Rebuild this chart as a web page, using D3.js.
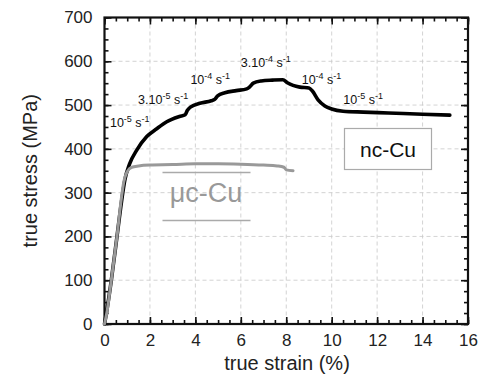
<!DOCTYPE html>
<html><head><meta charset="utf-8">
<script src="https://cdn.jsdelivr.net/npm/d3@7"></script>
<style>body{margin:0;background:#fff}svg{display:block}</style>
</head><body>
<svg id="c" width="481" height="382"></svg>
<script>
// ---- data ----
const xTicks = [0, 2, 4, 6, 8, 10, 12, 14, 16];
const yTicks = [0, 100, 200, 300, 400, 500, 600, 700];
const ncStrain = [0, 0.1, 0.3, 0.55, 0.75, 0.9, 1.1, 1.42, 1.86, 2.3, 2.74, 3.3, 3.55, 3.65, 3.8, 4.2, 4.7, 4.85, 4.98, 5.3, 5.8, 6.26, 6.4, 6.55, 6.9, 7.4, 7.85, 8.05, 8.3, 8.6, 9.0, 9.15, 9.4, 9.7, 10.0, 10.5, 11.4, 12.5, 14.0, 15.2];
const ncStress = [0, 30, 100, 200, 280, 330, 365, 397, 428, 446, 462, 474, 478, 488, 496, 504, 510, 513, 521, 528, 533, 537, 542, 550, 555, 557, 558, 551, 545, 541, 539, 532, 512, 498, 491, 486, 484, 482, 479, 477];
const ucStrain = [0, 0.1, 0.3, 0.55, 0.75, 0.85, 1.0, 1.2, 1.5, 2.0, 3.0, 4.0, 5.0, 6.0, 7.0, 7.6, 7.9, 8.0, 8.3];
const ucStress = [0, 25, 100, 200, 290, 325, 348, 358, 361, 363, 364, 366, 366, 365, 363, 361, 358, 352, 350];
// strain-rate annotations: [strain, stress, prefix, exponent]
const rateLabels = [
  {x: 0.24, y: 450, pre: "10", exp: "-5"},
  {x: 1.48, y: 502, pre: "3.10", exp: "-5"},
  {x: 3.78, y: 549, pre: "10", exp: "-4"},
  {x: 5.998, y: 587, pre: "3.10", exp: "-4"},
  {x: 8.68, y: 549, pre: "10", exp: "-4"},
  {x: 10.51, y: 502, pre: "10", exp: "-5"}
];

const font = "'Liberation Sans', Arial, Helvetica, sans-serif";
const svg = d3.select("#c");
const L = 104.5, R = 468, T = 17.5, B = 324;
const x = d3.scaleLinear().domain([0, 16]).range([L, R]);
const y = d3.scaleLinear().domain([0, 700]).range([B, T]);

// grid
const g = svg.append("g");
g.selectAll(".gx").data(xTicks.slice(1, -1)).join("line")
  .attr("x1", d => x(d)).attr("x2", d => x(d)).attr("y1", T).attr("y2", B)
  .attr("stroke", "#c8c8c8").attr("stroke-width", 0.8).attr("stroke-dasharray", "4,3");
g.selectAll(".gy").data(yTicks.slice(1, -1)).join("line")
  .attr("y1", d => y(d)).attr("y2", d => y(d)).attr("x1", L).attr("x2", R)
  .attr("stroke", "#c8c8c8").attr("stroke-width", 0.8).attr("stroke-dasharray", "4,3");

// axes with inward ticks
const xMinor = d3.range(0, 16.01, 0.5);
const yMinor = d3.range(0, 700.1, 25);
function addAxis(axisGen, tx, ty, cls) {
  return svg.append("g").attr("transform", `translate(${tx},${ty})`).call(axisGen);
}
const axB = addAxis(d3.axisBottom(x).tickValues(xTicks).tickSize(-7).tickPadding(10).tickFormat(d3.format("d")), 0, B);
const axBm = addAxis(d3.axisBottom(x).tickValues(xMinor).tickSize(-4).tickFormat(""), 0, B);
const axT = addAxis(d3.axisTop(x).tickValues(xTicks).tickSize(-7).tickFormat(""), 0, T);
const axTm = addAxis(d3.axisTop(x).tickValues(xMinor).tickSize(-4).tickFormat(""), 0, T);
const axL = addAxis(d3.axisLeft(y).tickValues(yTicks).tickSize(-7).tickPadding(12).tickFormat(d3.format("d")), L, 0);
const axLm = addAxis(d3.axisLeft(y).tickValues(yMinor).tickSize(-4).tickFormat(""), L, 0);
const axR = addAxis(d3.axisRight(y).tickValues(yTicks).tickSize(-7).tickFormat(""), R, 0);
const axRm = addAxis(d3.axisRight(y).tickValues(yMinor).tickSize(-4).tickFormat(""), R, 0);
[axB, axBm, axT, axTm, axL, axLm, axR, axRm].forEach(a => {
  a.select(".domain").remove();
  a.selectAll(".tick line").attr("stroke", "#111").attr("stroke-width", 1.6);
  a.selectAll("text").attr("font-family", font).attr("font-size", 17).attr("fill", "#222");
});
axB.selectAll("text").attr("dy", "0.71em");

// frame
svg.append("rect").attr("x", L).attr("y", T).attr("width", R - L).attr("height", B - T)
  .attr("fill", "none").attr("stroke", "#111").attr("stroke-width", 2.2);

// curves
const line = d3.line().x(d => x(d[0])).y(d => y(d[1])).curve(d3.curveMonotoneX);
svg.append("path").datum(ncStrain.map((s, i) => [s, ncStress[i]]))
  .attr("d", line).attr("fill", "none").attr("stroke", "#000").attr("stroke-width", 3.6)
  .attr("stroke-linejoin", "round").attr("stroke-linecap", "round");
svg.append("path").datum(ucStrain.map((s, i) => [s, ucStress[i]]))
  .attr("d", line).attr("fill", "none").attr("stroke", "#999").attr("stroke-width", 3)
  .attr("stroke-linejoin", "round").attr("stroke-linecap", "round");

// rate labels
rateLabels.forEach(r => {
  const t = svg.append("text").attr("x", x(r.x)).attr("y", y(r.y))
    .attr("font-family", font).attr("font-size", 12.5).attr("fill", "#111");
  t.append("tspan").text(r.pre);
  t.append("tspan").attr("font-size", 9).attr("dy", -5).text(r.exp);
  t.append("tspan").attr("dy", 5).text(" s");
  t.append("tspan").attr("font-size", 9).attr("dy", -5).text("-1");
});

// nc-Cu label box
svg.append("rect").attr("x", 344.5).attr("y", 128.5).attr("width", 87).attr("height", 41)
  .attr("fill", "#fff").attr("stroke", "#aaa").attr("stroke-width", 1.2);
svg.append("text").attr("x", 388).attr("y", 156.5).attr("text-anchor", "middle")
  .attr("font-family", font).attr("font-size", 21).attr("fill", "#111").text("nc-Cu");

// μc-Cu label
svg.append("line").attr("x1", 162.5).attr("x2", 250.5).attr("y1", 172.5).attr("y2", 172.5)
  .attr("stroke", "#aaa").attr("stroke-width", 1.3);
svg.append("line").attr("x1", 162.5).attr("x2", 250.5).attr("y1", 220.5).attr("y2", 220.5)
  .attr("stroke", "#aaa").attr("stroke-width", 1.3);
svg.append("text").attr("x", 206).attr("y", 201.5).attr("text-anchor", "middle")
  .attr("font-family", font).attr("font-size", 27).attr("fill", "#999").text("μc-Cu");

// axis titles
svg.append("text").attr("x", 287).attr("y", 370).attr("text-anchor", "middle")
  .attr("font-family", font).attr("font-size", 20).attr("fill", "#222").text("true strain (%)");
svg.append("text").attr("transform", `translate(37,${(T + B) / 2}) rotate(-90)`)
  .attr("text-anchor", "middle")
  .attr("font-family", font).attr("font-size", 20).attr("fill", "#222").text("true stress (MPa)");
</script>
</body></html>
